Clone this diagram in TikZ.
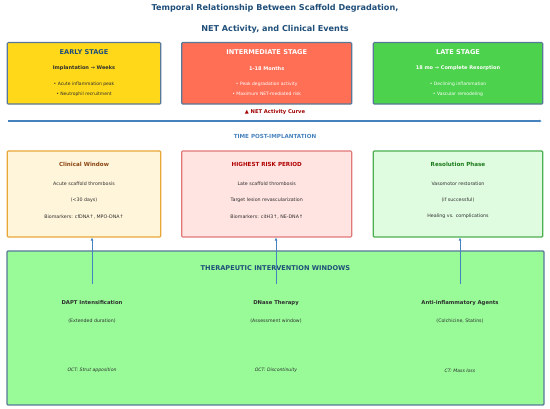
\documentclass[tikz,border=0pt]{standalone}
\usepackage{fontspec}
\setmainfont{DejaVu Sans}
\usepackage{xcolor}
\usepackage{tikz}
\usetikzlibrary{arrows.meta,positioning}
\definecolor{titleblue}{RGB}{31, 78, 121}
\definecolor{stageedge}{RGB}{88, 120, 152}
\definecolor{earlyfill}{RGB}{255, 216, 26}
\definecolor{midfill}{RGB}{255, 111, 86}
\definecolor{latefill}{RGB}{76, 210, 76}
\definecolor{textdark}{RGB}{45, 45, 45}
\definecolor{timeblue}{RGB}{70, 130, 190}
\definecolor{curvered}{RGB}{160, 0, 0}
\definecolor{clinfill}{RGB}{255, 245, 218}
\definecolor{clinedge}{RGB}{232, 168, 56}
\definecolor{clintext}{RGB}{139, 69, 19}
\definecolor{riskfill}{RGB}{255, 228, 225}
\definecolor{riskedge}{RGB}{224, 120, 120}
\definecolor{risktext}{RGB}{176, 0, 0}
\definecolor{resfill}{RGB}{224, 252, 224}
\definecolor{resedge}{RGB}{76, 175, 80}
\definecolor{restext}{RGB}{27, 122, 27}
\definecolor{therfill}{RGB}{152, 251, 152}

\begin{document}
\begin{tikzpicture}[x=1pt,y=-1pt,
  stagebox/.style={draw=stageedge,line width=1.1pt,rounded corners=1pt,minimum height=61.5pt,inner sep=0pt},
  windowbox/.style={line width=1.1pt,rounded corners=1pt,minimum height=86pt,inner sep=0pt},
  stagehead/.style={font=\fontsize{6.6}{8}\selectfont\bfseries},
  stagesub/.style={font=\fontsize{5}{6}\selectfont\bfseries},
  bullet/.style={font=\fontsize{4.5}{5}\selectfont},
  winhead/.style={font=\fontsize{5.6}{6}\selectfont\bfseries},
  winline/.style={font=\fontsize{4.75}{5}\selectfont,textdark},
  thername/.style={font=\fontsize{5.3}{6}\selectfont\bfseries,textdark},
  thernote/.style={font=\fontsize{4.7}{5}\selectfont,textdark},
  therocta/.style={font=\fontsize{4.6}{5}\selectfont\itshape,textdark},
  link/.style={timeblue,line width=1pt,-{Latex[length=3pt,width=3pt]}}]
\useasboundingbox (0,0) rectangle (550,409);
% title
\node[font=\fontsize{8.1}{9}\selectfont\bfseries,titleblue] (title1) at (275,8) {Temporal Relationship Between Scaffold Degradation,};
\node[font=\fontsize{8.1}{9}\selectfont\bfseries,titleblue] (title2) at (275,29.5) {NET Activity, and Clinical Events};
% stages
\node[stagebox,fill=earlyfill,minimum width=153.5pt] (early) at (84,73.3) {};
\node[stagehead,titleblue] (earlyh) at (84,51.7) {EARLY STAGE};
\node[stagesub,textdark] (earlys) at (84,68.3) {Implantation → Weeks};
\node[bullet,textdark] (earlyb1) at (84,84.3) {• Acute inflammation peak};
\node[bullet,textdark] (earlyb2) at (84,94.3) {• Neutrophil recruitment};
\node[stagebox,fill=midfill,minimum width=170pt] (inter) at (266.7,73.3) {};
\node[stagehead,white] (interh) at (266.7,51.7) {INTERMEDIATE STAGE};
\node[stagesub,white] (inters) at (266.7,68.3) {1-18 Months};
\node[bullet,white] (interb1) at (266.7,84.3) {• Peak degradation activity};
\node[bullet,white] (interb2) at (266.7,94.3) {• Maximum NET-mediated risk};
\node[stagebox,fill=latefill,minimum width=169.5pt] (late) at (458,73.3) {};
\node[stagehead,white] (lateh) at (458,51.7) {LATE STAGE};
\node[stagesub,white] (lates) at (458,68.3) {18 mo → Complete Resorption};
\node[bullet,white] (lateb1) at (458,84.3) {• Declining inflammation};
\node[bullet,white] (lateb2) at (458,94.3) {• Vascular remodeling};
% time axis
\node[font=\fontsize{5.2}{6}\selectfont\bfseries,curvered] (curve) at (275,112) {▲ NET Activity Curve};
\coordinate (t0) at (8,121);
\coordinate (t1) at (542,121);
\draw[timeblue,line width=1.4pt,-{Latex[length=3pt,width=3pt]}] (t0) -- (t1);
\node[font=\fontsize{5.6}{6}\selectfont\bfseries,timeblue] (timelbl) at (275,136) {TIME POST-IMPLANTATION};
% clinical windows
\node[windowbox,draw=clinedge,fill=clinfill,minimum width=153.5pt] (clin) at (84,194) {};
\node[winhead,clintext] (clinh) at (84,164) {Clinical Window};
\node[winline] (clin1) at (84,184) {Acute scaffold thrombosis};
\node[winline] (clin2) at (84,200.5) {(<30 days)};
\node[winline] (clin3) at (84,216.5) {Biomarkers: cfDNA↑, MPO-DNA↑};
\node[windowbox,draw=riskedge,fill=riskfill,minimum width=170pt] (risk) at (266.7,194) {};
\node[winhead,risktext] (riskh) at (266.7,164) {HIGHEST RISK PERIOD};
\node[winline] (risk1) at (266.7,184) {Late scaffold thrombosis};
\node[winline] (risk2) at (266.7,200.5) {Target lesion revascularization};
\node[winline] (risk3) at (266.7,216.5) {Biomarkers: citH3↑, NE-DNA↑};
\node[windowbox,draw=resedge,fill=resfill,minimum width=169.5pt] (res) at (458,194) {};
\node[winhead,restext] (resh) at (458,164) {Resolution Phase};
\node[winline] (res1) at (458,184) {Vasomotor restoration};
\node[winline] (res2) at (458,200.5) {(if successful)};
\node[winline] (res3) at (458,216.5) {Healing vs. complications};
% therapeutic windows
\node[draw=stageedge,line width=1.1pt,rounded corners=1pt,fill=therfill,minimum width=537pt,minimum height=154pt,inner sep=0pt] (ther) at (275.5,328) {};
\node[font=\fontsize{6.6}{7}\selectfont\bfseries,titleblue] (therh) at (275.5,268) {THERAPEUTIC INTERVENTION WINDOWS};
\coordinate (d1) at (92,284.5);
\coordinate (d2) at (276,284.5);
\coordinate (d3) at (460,284.5);
\draw[link] (d1) -- (d1 |- clin.south);
\draw[link] (d2) -- (d2 |- risk.south);
\draw[link] (d3) -- (d3 |- res.south);
\node[thername] (dapt) at (92,303) {DAPT Intensification};
\node[thernote] (dapt1) at (92,321) {(Extended duration)};
\node[therocta] (dapt2) at (92,370.5) {OCT: Strut apposition};
\node[thername] (dnase) at (276,303) {DNase Therapy};
\node[thernote] (dnase1) at (276,321) {(Assessment window)};
\node[therocta] (dnase2) at (276,370.5) {OCT: Discontinuity};
\node[thername] (anti) at (460,303) {Anti-inflammatory Agents};
\node[thernote] (anti1) at (460,321) {(Colchicine, Statins)};
\node[therocta] (anti2) at (460,370.5) {CT: Mass loss};
\end{tikzpicture}
\end{document}
